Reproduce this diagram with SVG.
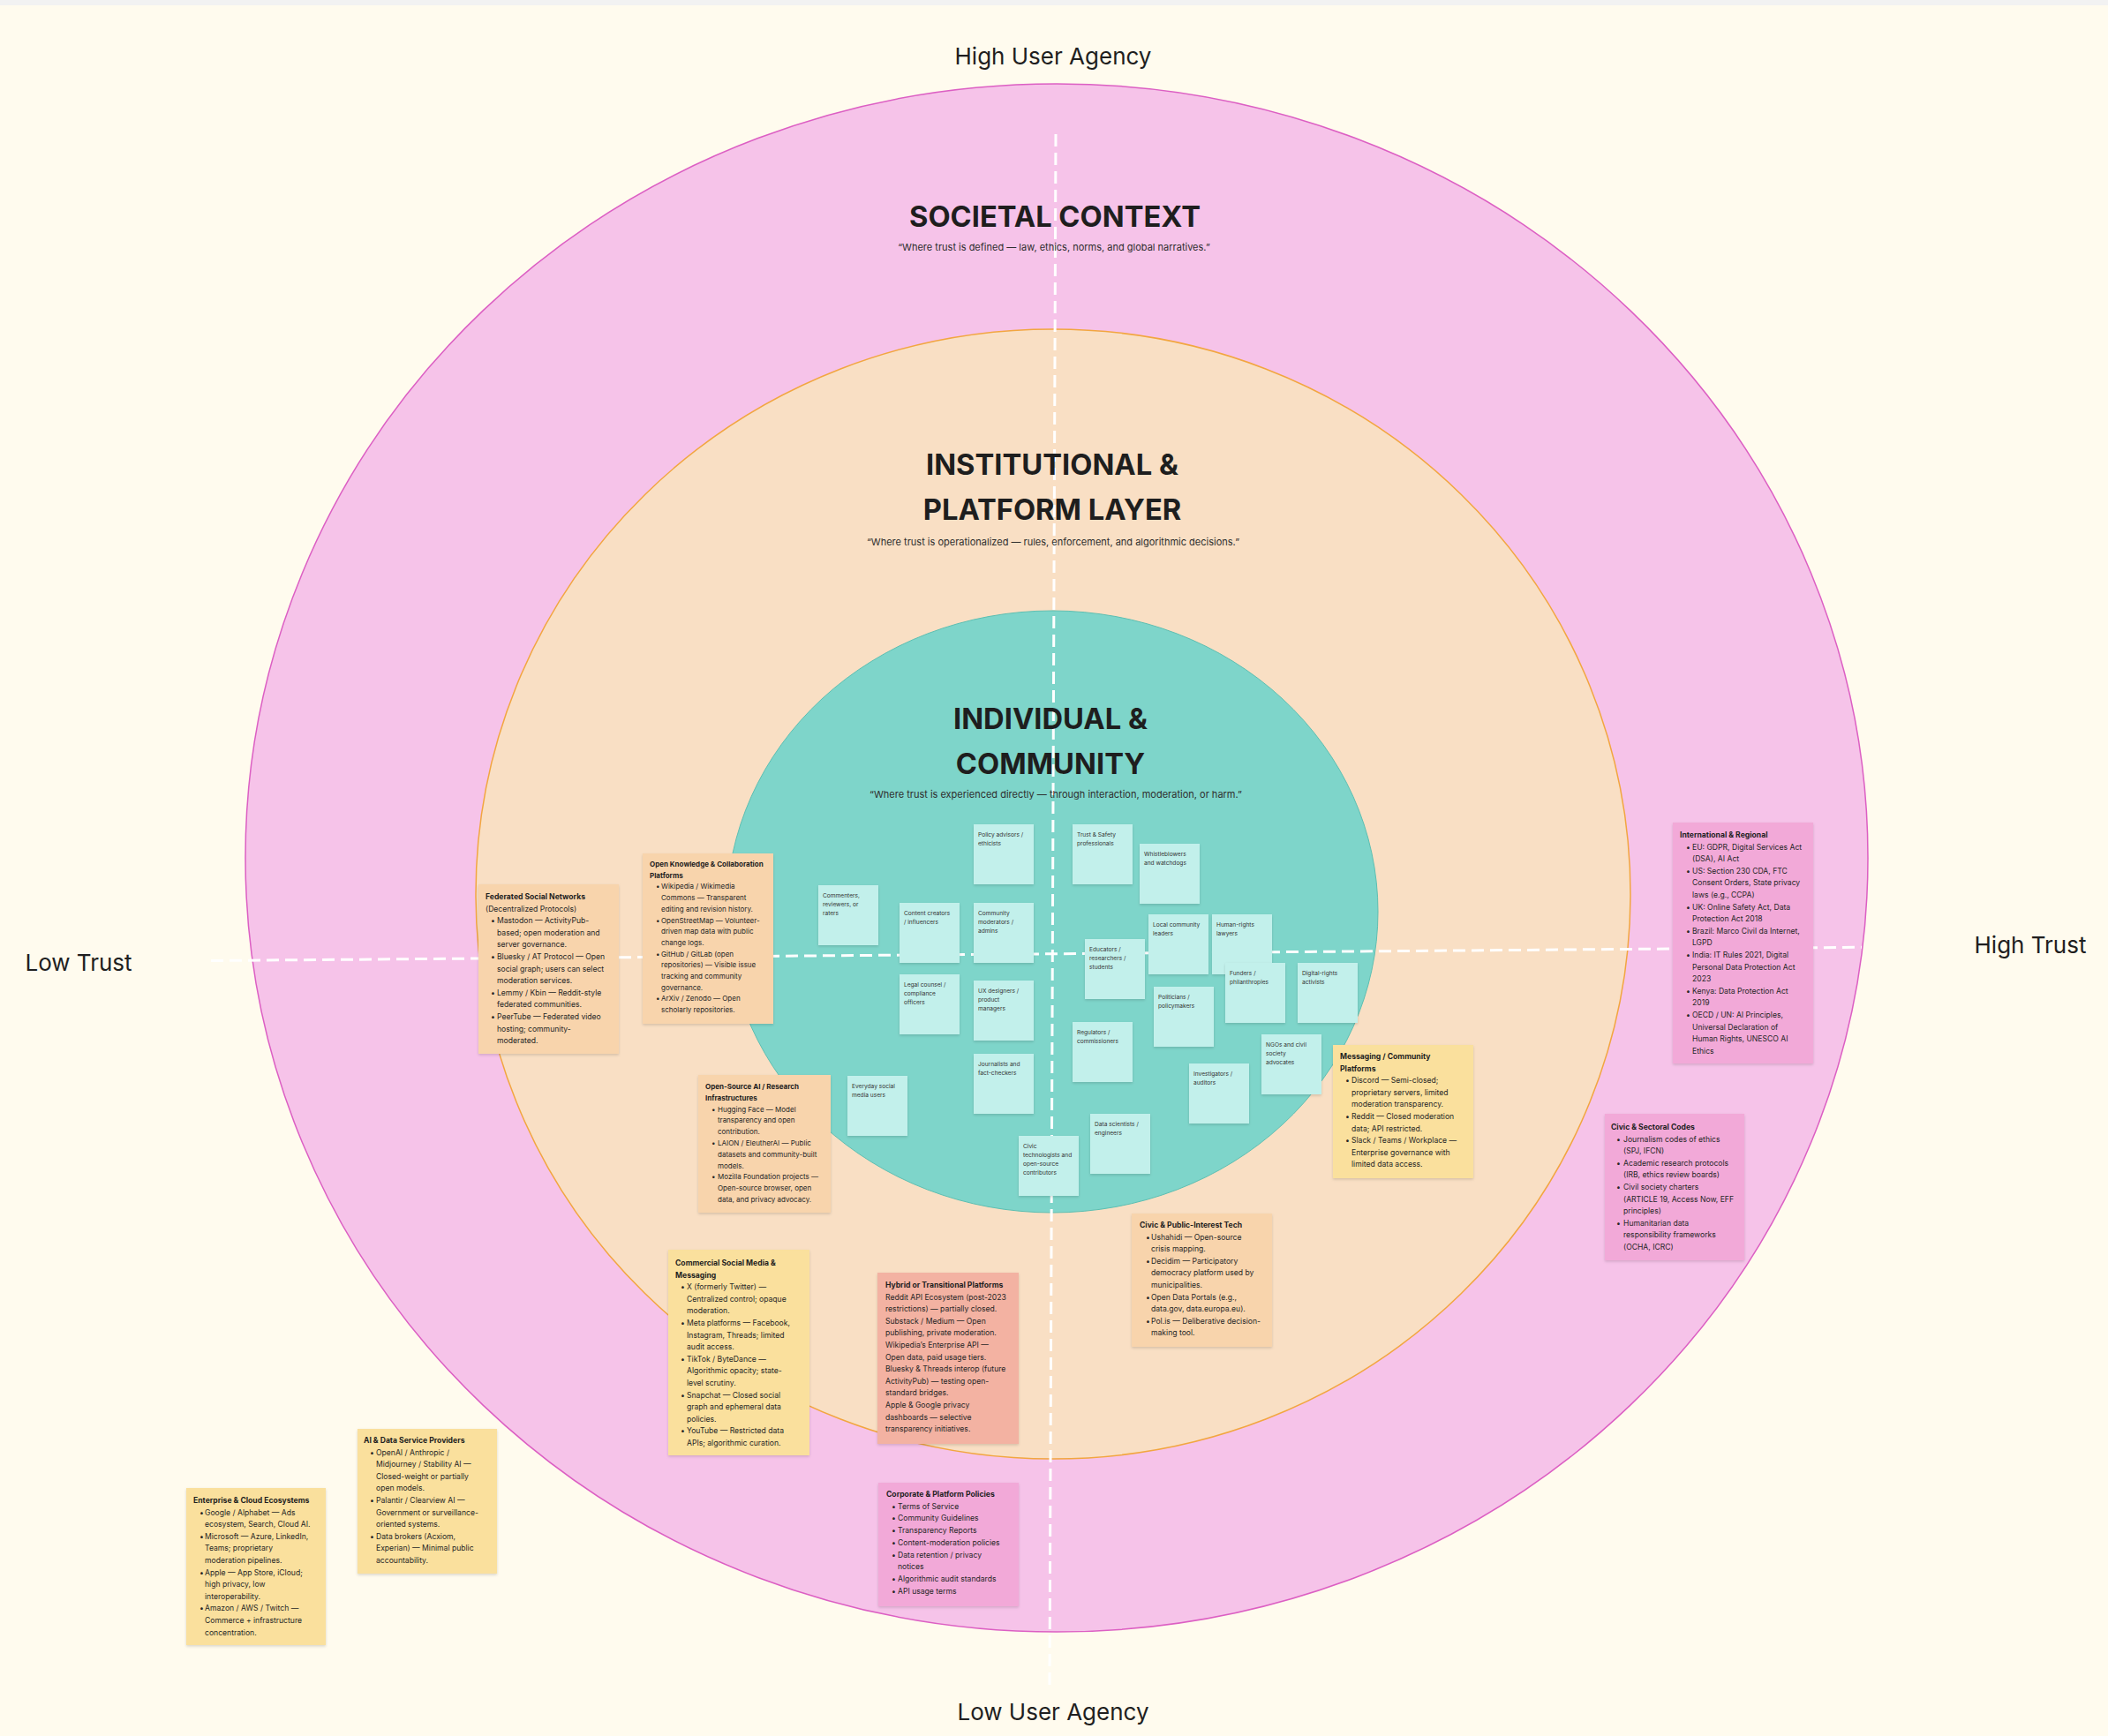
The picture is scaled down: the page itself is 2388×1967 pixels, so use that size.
<svg xmlns="http://www.w3.org/2000/svg" width="2388" height="1967" viewBox="0 0 2388 1967">
<defs>
<style>
text{font-family:Inter,"Noto Sans","Liberation Sans",sans-serif;fill:#262626}
.axis{font-size:26px;fill:#1f1f1f}
.ttl{font-size:32.7px;font-weight:700;fill:#1e1e1e}
.quote{font-size:11px;fill:#2e2e2e}
.st rect{fill:#c2f0eb}
.st text{font-size:6.6px;fill:#333}
.bx text{font-size:8.6px}
.bx text.sm{font-size:8px}
.bx .h{font-weight:700;fill:#1e1e1e}
.peach{fill:#f8d4ac}
.yellow{fill:#fae09d}
.salmon{fill:#f3b2a2}
.pink{fill:#f2a9d8}
.axisline{fill:none;stroke:#fff;stroke-width:3;stroke-dasharray:14 7}
</style>
<filter id="sh" x="-10%" y="-10%" width="120%" height="125%">
<feDropShadow dx="0" dy="1.5" stdDeviation="1.5" flood-color="#000" flood-opacity="0.15"/>
</filter>
</defs>
<rect width="2388" height="1967" fill="#fffbee"/>
<rect width="2388" height="6" fill="#f2f2f2"/>

<g id="rings">
<ellipse id="societal" cx="1197" cy="972" rx="919" ry="877" fill="#f6c3e9" stroke="#dc5fc3" stroke-width="1.5"/>
<ellipse id="institutional" cx="1193" cy="1013" rx="654" ry="640" fill="#f9dfc4" stroke="#f2a640" stroke-width="1.5"/>
<ellipse id="individual" cx="1192" cy="1033" rx="369" ry="341" fill="#7ed5ca" stroke="#5dbfb2" stroke-width="1"/>
</g>

<g id="connectors">
<line class="axisline" x1="1196" y1="152" x2="1189" y2="1911"/>
<line class="axisline" x1="239" y1="1088.5" x2="2109" y2="1073.3"/>
</g>

<g id="axis-labels">
<text class="axis" x="1193" y="73" text-anchor="middle">High User Agency</text>
<text class="axis" x="1193" y="1949" text-anchor="middle">Low User Agency</text>
<text class="axis" x="89" y="1100" text-anchor="middle">Low Trust</text>
<text class="axis" x="2300" y="1080" text-anchor="middle">High Trust</text>
</g>

<g id="titles">
<text class="ttl" x="1195" y="257" text-anchor="middle">SOCIETAL CONTEXT</text>
<text class="quote" x="1194" y="284" text-anchor="middle">“Where trust is defined — law, ethics, norms, and global narratives.”</text>
<text class="ttl" x="1192" y="538" text-anchor="middle">INSTITUTIONAL &amp;</text>
<text class="ttl" x="1192" y="589" text-anchor="middle">PLATFORM LAYER</text>
<text class="quote" x="1193" y="618" text-anchor="middle">“Where trust is operationalized — rules, enforcement, and algorithmic decisions.”</text>
<text class="ttl" x="1190" y="826" text-anchor="middle">INDIVIDUAL &amp;</text>
<text class="ttl" x="1190" y="877" text-anchor="middle">COMMUNITY</text>
<text class="quote" x="1196" y="904" text-anchor="middle">“Where trust is experienced directly — through interaction, moderation, or harm.”</text>
</g>

<g id="stickies" class="st">
<g id="s-policy"><rect x="1103" y="934" width="68" height="68" filter="url(#sh)"/><text x="1108" y="948">Policy advisors /<tspan x="1108" dy="10">ethicists</tspan></text></g>
<g id="s-trust"><rect x="1215" y="934" width="68" height="68" filter="url(#sh)"/><text x="1220" y="948">Trust &amp; Safety<tspan x="1220" dy="10">professionals</tspan></text></g>
<g id="s-whistle"><rect x="1291" y="956" width="68" height="68" filter="url(#sh)"/><text x="1296" y="970">Whistleblowers<tspan x="1296" dy="10">and watchdogs</tspan></text></g>
<g id="s-commenters"><rect x="927" y="1003" width="68" height="68" filter="url(#sh)"/><text x="932" y="1017">Commenters,<tspan x="932" dy="10">reviewers, or</tspan><tspan x="932" dy="10">raters</tspan></text></g>
<g id="s-creators"><rect x="1019" y="1023" width="68" height="68" filter="url(#sh)"/><text x="1024" y="1037">Content creators<tspan x="1024" dy="10">/ influencers</tspan></text></g>
<g id="s-mods"><rect x="1103" y="1023" width="68" height="68" filter="url(#sh)"/><text x="1108" y="1037">Community<tspan x="1108" dy="10">moderators /</tspan><tspan x="1108" dy="10">admins</tspan></text></g>
<g id="s-local"><rect x="1301" y="1036" width="68" height="68" filter="url(#sh)"/><text x="1306" y="1050">Local community<tspan x="1306" dy="10">leaders</tspan></text></g>
<g id="s-lawyers"><rect x="1373" y="1036" width="68" height="68" filter="url(#sh)"/><text x="1378" y="1050">Human-rights<tspan x="1378" dy="10">lawyers</tspan></text></g>
<g id="s-educators"><rect x="1229" y="1064" width="68" height="68" filter="url(#sh)"/><text x="1234" y="1078">Educators /<tspan x="1234" dy="10">researchers /</tspan><tspan x="1234" dy="10">students</tspan></text></g>
<g id="s-funders"><rect x="1388" y="1091" width="68" height="68" filter="url(#sh)"/><text x="1393" y="1105">Funders /<tspan x="1393" dy="10">philanthropies</tspan></text></g>
<g id="s-digital"><rect x="1470" y="1091" width="68" height="68" filter="url(#sh)"/><text x="1475" y="1105">Digital-rights<tspan x="1475" dy="10">activists</tspan></text></g>
<g id="s-legal"><rect x="1019" y="1104" width="68" height="68" filter="url(#sh)"/><text x="1024" y="1118">Legal counsel /<tspan x="1024" dy="10">compliance</tspan><tspan x="1024" dy="10">officers</tspan></text></g>
<g id="s-ux"><rect x="1103" y="1111" width="68" height="68" filter="url(#sh)"/><text x="1108" y="1125">UX designers /<tspan x="1108" dy="10">product</tspan><tspan x="1108" dy="10">managers</tspan></text></g>
<g id="s-politicians"><rect x="1307" y="1118" width="68" height="68" filter="url(#sh)"/><text x="1312" y="1132">Politicians /<tspan x="1312" dy="10">policymakers</tspan></text></g>
<g id="s-regulators"><rect x="1215" y="1158" width="68" height="68" filter="url(#sh)"/><text x="1220" y="1172">Regulators /<tspan x="1220" dy="10">commissioners</tspan></text></g>
<g id="s-ngos"><rect x="1429" y="1172" width="68" height="68" filter="url(#sh)"/><text x="1434" y="1186">NGOs and civil<tspan x="1434" dy="10">society</tspan><tspan x="1434" dy="10">advocates</tspan></text></g>
<g id="s-journalists"><rect x="1103" y="1194" width="68" height="68" filter="url(#sh)"/><text x="1108" y="1208">Journalists and<tspan x="1108" dy="10">fact-checkers</tspan></text></g>
<g id="s-investigators"><rect x="1347" y="1205" width="68" height="68" filter="url(#sh)"/><text x="1352" y="1219">Investigators /<tspan x="1352" dy="10">auditors</tspan></text></g>
<g id="s-everyday"><rect x="960" y="1219" width="68" height="68" filter="url(#sh)"/><text x="965" y="1233">Everyday social<tspan x="965" dy="10">media users</tspan></text></g>
<g id="s-datasci"><rect x="1235" y="1262" width="68" height="68" filter="url(#sh)"/><text x="1240" y="1276">Data scientists /<tspan x="1240" dy="10">engineers</tspan></text></g>
<g id="s-civic"><rect x="1154" y="1287" width="68" height="68" filter="url(#sh)"/><text x="1159" y="1301">Civic<tspan x="1159" dy="10">technologists and</tspan><tspan x="1159" dy="10">open-source</tspan><tspan x="1159" dy="10">contributors</tspan></text></g>
</g>

<g class="bx">
<g id="federated"><rect class="peach" x="542" y="1002" width="159" height="192" filter="url(#sh)"/>
<text><tspan class="h" x="550" y="1019">Federated Social Networks</tspan><tspan x="550" y="1032.6">(Decentralized Protocols)</tspan><tspan x="556" y="1046.2">•</tspan><tspan x="563">Mastodon — ActivityPub-</tspan><tspan x="563" y="1059.8">based; open moderation and</tspan><tspan x="563" y="1073.4">server governance.</tspan><tspan x="556" y="1087">•</tspan><tspan x="563">Bluesky / AT Protocol — Open</tspan><tspan x="563" y="1100.6">social graph; users can select</tspan><tspan x="563" y="1114.2">moderation services.</tspan><tspan x="556" y="1127.8">•</tspan><tspan x="563">Lemmy / Kbin — Reddit-style</tspan><tspan x="563" y="1141.4">federated communities.</tspan><tspan x="556" y="1155">•</tspan><tspan x="563">PeerTube — Federated video</tspan><tspan x="563" y="1168.6">hosting; community-</tspan><tspan x="563" y="1182.2">moderated.</tspan></text></g>

<g id="open-knowledge"><rect class="peach" x="728" y="967" width="148" height="193" filter="url(#sh)"/>
<text class="sm"><tspan class="h" x="736" y="982">Open Knowledge &amp; Collaboration</tspan><tspan class="h" x="736" y="994.7">Platforms</tspan><tspan x="743" y="1007.4">•</tspan><tspan x="749">Wikipedia / Wikimedia</tspan><tspan x="749" y="1020.1">Commons — Transparent</tspan><tspan x="749" y="1032.8">editing and revision history.</tspan><tspan x="743" y="1045.5">•</tspan><tspan x="749">OpenStreetMap — Volunteer-</tspan><tspan x="749" y="1058.2">driven map data with public</tspan><tspan x="749" y="1070.9">change logs.</tspan><tspan x="743" y="1083.6">•</tspan><tspan x="749">GitHub / GitLab (open</tspan><tspan x="749" y="1096.3">repositories) — Visible issue</tspan><tspan x="749" y="1109">tracking and community</tspan><tspan x="749" y="1121.7">governance.</tspan><tspan x="743" y="1134.4">•</tspan><tspan x="749">ArXiv / Zenodo — Open</tspan><tspan x="749" y="1147.1">scholarly repositories.</tspan></text></g>

<g id="open-source-ai"><rect class="peach" x="791" y="1218" width="150" height="156" filter="url(#sh)"/>
<text class="sm"><tspan class="h" x="799" y="1234">Open-Source AI / Research</tspan><tspan class="h" x="799" y="1246.8">Infrastructures</tspan><tspan x="806" y="1259.6">•</tspan><tspan x="813">Hugging Face — Model</tspan><tspan x="813" y="1272.4">transparency and open</tspan><tspan x="813" y="1285.2">contribution.</tspan><tspan x="806" y="1298">•</tspan><tspan x="813">LAION / EleutherAI — Public</tspan><tspan x="813" y="1310.8">datasets and community-built</tspan><tspan x="813" y="1323.6">models.</tspan><tspan x="806" y="1336.4">•</tspan><tspan x="813">Mozilla Foundation projects —</tspan><tspan x="813" y="1349.2">Open-source browser, open</tspan><tspan x="813" y="1362">data, and privacy advocacy.</tspan></text></g>

<g id="commercial"><rect class="yellow" x="757" y="1416" width="160" height="233" filter="url(#sh)"/>
<text><tspan class="h" x="765" y="1434">Commercial Social Media &amp;</tspan><tspan class="h" x="765" y="1447.6">Messaging</tspan><tspan x="771" y="1461.2">•</tspan><tspan x="778">X (formerly Twitter) —</tspan><tspan x="778" y="1474.8">Centralized control; opaque</tspan><tspan x="778" y="1488.4">moderation.</tspan><tspan x="771" y="1502">•</tspan><tspan x="778">Meta platforms — Facebook,</tspan><tspan x="778" y="1515.6">Instagram, Threads; limited</tspan><tspan x="778" y="1529.2">audit access.</tspan><tspan x="771" y="1542.8">•</tspan><tspan x="778">TikTok / ByteDance —</tspan><tspan x="778" y="1556.4">Algorithmic opacity; state-</tspan><tspan x="778" y="1570">level scrutiny.</tspan><tspan x="771" y="1583.6">•</tspan><tspan x="778">Snapchat — Closed social</tspan><tspan x="778" y="1597.2">graph and ephemeral data</tspan><tspan x="778" y="1610.8">policies.</tspan><tspan x="771" y="1624.4">•</tspan><tspan x="778">YouTube — Restricted data</tspan><tspan x="778" y="1638">APIs; algorithmic curation.</tspan></text></g>

<g id="hybrid"><rect class="salmon" x="994" y="1442" width="160" height="194" filter="url(#sh)"/>
<text><tspan class="h" x="1003" y="1459">Hybrid or Transitional Platforms</tspan><tspan x="1003" y="1472.6">Reddit API Ecosystem (post-2023</tspan><tspan x="1003" y="1486.2">restrictions) — partially closed.</tspan><tspan x="1003" y="1499.8">Substack / Medium — Open</tspan><tspan x="1003" y="1513.4">publishing, private moderation.</tspan><tspan x="1003" y="1527">Wikipedia’s Enterprise API —</tspan><tspan x="1003" y="1540.6">Open data, paid usage tiers.</tspan><tspan x="1003" y="1554.2">Bluesky &amp; Threads interop (future</tspan><tspan x="1003" y="1567.8">ActivityPub) — testing open-</tspan><tspan x="1003" y="1581.4">standard bridges.</tspan><tspan x="1003" y="1595">Apple &amp; Google privacy</tspan><tspan x="1003" y="1608.6">dashboards — selective</tspan><tspan x="1003" y="1622.2">transparency initiatives.</tspan></text></g>

<g id="corporate"><rect class="pink" x="995" y="1680" width="159" height="140" filter="url(#sh)"/>
<text><tspan class="h" x="1004" y="1696">Corporate &amp; Platform Policies</tspan><tspan x="1010" y="1709.7">•</tspan><tspan x="1017">Terms of Service</tspan><tspan x="1010" y="1723.4">•</tspan><tspan x="1017">Community Guidelines</tspan><tspan x="1010" y="1737.1">•</tspan><tspan x="1017">Transparency Reports</tspan><tspan x="1010" y="1750.8">•</tspan><tspan x="1017">Content-moderation policies</tspan><tspan x="1010" y="1764.5">•</tspan><tspan x="1017">Data retention / privacy</tspan><tspan x="1017" y="1778.2">notices</tspan><tspan x="1010" y="1791.9">•</tspan><tspan x="1017">Algorithmic audit standards</tspan><tspan x="1010" y="1805.6">•</tspan><tspan x="1017">API usage terms</tspan></text></g>

<g id="civic-tech"><rect class="peach" x="1282" y="1375" width="159" height="151" filter="url(#sh)"/>
<text><tspan class="h" x="1291" y="1391">Civic &amp; Public-Interest Tech</tspan><tspan x="1298" y="1404.6">•</tspan><tspan x="1304">Ushahidi — Open-source</tspan><tspan x="1304" y="1418.2">crisis mapping.</tspan><tspan x="1298" y="1431.8">•</tspan><tspan x="1304">Decidim — Participatory</tspan><tspan x="1304" y="1445.4">democracy platform used by</tspan><tspan x="1304" y="1459">municipalities.</tspan><tspan x="1298" y="1472.6">•</tspan><tspan x="1304">Open Data Portals (e.g.,</tspan><tspan x="1304" y="1486.2">data.gov, data.europa.eu).</tspan><tspan x="1298" y="1499.8">•</tspan><tspan x="1304">Pol.is — Deliberative decision-</tspan><tspan x="1304" y="1513.4">making tool.</tspan></text></g>

<g id="messaging"><rect class="yellow" x="1510" y="1184" width="159" height="151" filter="url(#sh)"/>
<text><tspan class="h" x="1518" y="1200">Messaging / Community</tspan><tspan class="h" x="1518" y="1213.6">Platforms</tspan><tspan x="1524" y="1227.2">•</tspan><tspan x="1531">Discord — Semi-closed;</tspan><tspan x="1531" y="1240.8">proprietary servers, limited</tspan><tspan x="1531" y="1254.4">moderation transparency.</tspan><tspan x="1524" y="1268">•</tspan><tspan x="1531">Reddit — Closed moderation</tspan><tspan x="1531" y="1281.6">data; API restricted.</tspan><tspan x="1524" y="1295.2">•</tspan><tspan x="1531">Slack / Teams / Workplace —</tspan><tspan x="1531" y="1308.8">Enterprise governance with</tspan><tspan x="1531" y="1322.4">limited data access.</tspan></text></g>

<g id="international"><rect class="pink" x="1895" y="932" width="159" height="273" filter="url(#sh)"/>
<text><tspan class="h" x="1903" y="949">International &amp; Regional</tspan><tspan x="1910" y="962.6">•</tspan><tspan x="1917">EU: GDPR, Digital Services Act</tspan><tspan x="1917" y="976.2">(DSA), AI Act</tspan><tspan x="1910" y="989.8">•</tspan><tspan x="1917">US: Section 230 CDA, FTC</tspan><tspan x="1917" y="1003.4">Consent Orders, State privacy</tspan><tspan x="1917" y="1017">laws (e.g., CCPA)</tspan><tspan x="1910" y="1030.6">•</tspan><tspan x="1917">UK: Online Safety Act, Data</tspan><tspan x="1917" y="1044.2">Protection Act 2018</tspan><tspan x="1910" y="1057.8">•</tspan><tspan x="1917">Brazil: Marco Civil da Internet,</tspan><tspan x="1917" y="1071.4">LGPD</tspan><tspan x="1910" y="1085">•</tspan><tspan x="1917">India: IT Rules 2021, Digital</tspan><tspan x="1917" y="1098.6">Personal Data Protection Act</tspan><tspan x="1917" y="1112.2">2023</tspan><tspan x="1910" y="1125.8">•</tspan><tspan x="1917">Kenya: Data Protection Act</tspan><tspan x="1917" y="1139.4">2019</tspan><tspan x="1910" y="1153">•</tspan><tspan x="1917">OECD / UN: AI Principles,</tspan><tspan x="1917" y="1166.6">Universal Declaration of</tspan><tspan x="1917" y="1180.2">Human Rights, UNESCO AI</tspan><tspan x="1917" y="1193.8">Ethics</tspan></text></g>

<g id="civic-codes"><rect class="pink" x="1818" y="1262" width="158" height="166" filter="url(#sh)"/>
<text><tspan class="h" x="1825" y="1280">Civic &amp; Sectoral Codes</tspan><tspan x="1831" y="1293.6">•</tspan><tspan x="1839">Journalism codes of ethics</tspan><tspan x="1839" y="1307.2">(SPJ, IFCN)</tspan><tspan x="1831" y="1320.8">•</tspan><tspan x="1839">Academic research protocols</tspan><tspan x="1839" y="1334.4">(IRB, ethics review boards)</tspan><tspan x="1831" y="1348">•</tspan><tspan x="1839">Civil society charters</tspan><tspan x="1839" y="1361.6">(ARTICLE 19, Access Now, EFF</tspan><tspan x="1839" y="1375.2">principles)</tspan><tspan x="1831" y="1388.8">•</tspan><tspan x="1839">Humanitarian data</tspan><tspan x="1839" y="1402.4">responsibility frameworks</tspan><tspan x="1839" y="1416">(OCHA, ICRC)</tspan></text></g>

<g id="ai-data"><rect class="yellow" x="405" y="1619" width="158" height="164" filter="url(#sh)"/>
<text><tspan class="h" x="412" y="1635">AI &amp; Data Service Providers</tspan><tspan x="419" y="1648.6">•</tspan><tspan x="426">OpenAI / Anthropic /</tspan><tspan x="426" y="1662.2">Midjourney / Stability AI —</tspan><tspan x="426" y="1675.8">Closed-weight or partially</tspan><tspan x="426" y="1689.4">open models.</tspan><tspan x="419" y="1703">•</tspan><tspan x="426">Palantir / Clearview AI —</tspan><tspan x="426" y="1716.6">Government or surveillance-</tspan><tspan x="426" y="1730.2">oriented systems.</tspan><tspan x="419" y="1743.8">•</tspan><tspan x="426">Data brokers (Acxiom,</tspan><tspan x="426" y="1757.4">Experian) — Minimal public</tspan><tspan x="426" y="1771">accountability.</tspan></text></g>

<g id="enterprise"><rect class="yellow" x="211" y="1686" width="158" height="178" filter="url(#sh)"/>
<text><tspan class="h" x="219" y="1703">Enterprise &amp; Cloud Ecosystems</tspan><tspan x="226" y="1716.6">•</tspan><tspan x="232">Google / Alphabet — Ads</tspan><tspan x="232" y="1730.2">ecosystem, Search, Cloud AI.</tspan><tspan x="226" y="1743.8">•</tspan><tspan x="232">Microsoft — Azure, LinkedIn,</tspan><tspan x="232" y="1757.4">Teams; proprietary</tspan><tspan x="232" y="1771">moderation pipelines.</tspan><tspan x="226" y="1784.6">•</tspan><tspan x="232">Apple — App Store, iCloud;</tspan><tspan x="232" y="1798.2">high privacy, low</tspan><tspan x="232" y="1811.8">interoperability.</tspan><tspan x="226" y="1825.4">•</tspan><tspan x="232">Amazon / AWS / Twitch —</tspan><tspan x="232" y="1839">Commerce + infrastructure</tspan><tspan x="232" y="1852.6">concentration.</tspan></text></g>
</g>
</svg>
